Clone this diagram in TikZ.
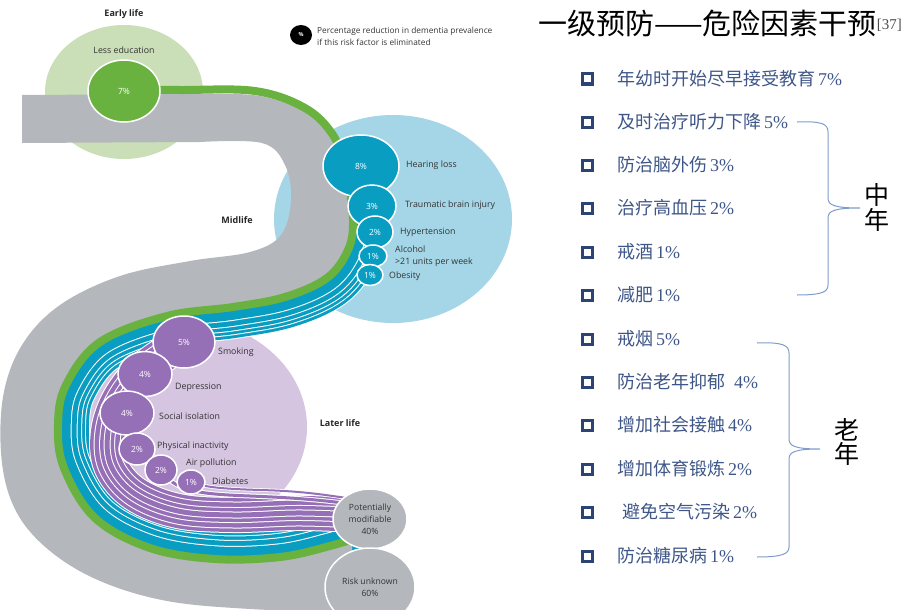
\documentclass[tikz,border=0pt]{standalone}
\usepackage{fontspec}
\usepackage{xcolor}
\usepackage{tikz}
\usetikzlibrary{shapes.geometric}
\newfontfamily\diagfont{Open Sans}
\newfontfamily\cjkfont{Noto Sans CJK SC}
\newfontfamily\refnumfont{Liberation Serif}

\definecolor{earlygreen}{HTML}{CADFB7}
\definecolor{beltgreen}{HTML}{6AB23F}
\definecolor{midblue}{HTML}{A5D6E7}
\definecolor{strandblue}{HTML}{0A9DC2}
\definecolor{laterpurple}{HTML}{D5C5E1}
\definecolor{strandpurple}{HTML}{9670B6}
\definecolor{beltgray}{HTML}{B4B8BD}
\definecolor{itemblue}{HTML}{3E5688}
\definecolor{boxnavy}{HTML}{2C4474}
\definecolor{braceblue}{HTML}{7E9BC9}

% centre line of the green belt below the hearing loss disc
\newcommand{\beltlower}{plot[smooth, tension=0.6] coordinates {(347,170) (353,220) (348,250) (327,278) (285,297) (233,307) (167,316) (100,342) (66,385) (58,425) (64,468) (95,518) (150,548) (215,559) (280,557) (330,546) (372,533)}}
% centre line of the later life bundle
\newcommand{\laterbundle}{plot[smooth, tension=0.6] coordinates {(184,342) (145,368) (120,398) (108,432) (111,466) (135,494) (178,511) (233,515) (295,513) (340,514) (372,514)}}

\tikzset{
  riskdot/.style={ellipse, draw=white, line width=1.5pt, inner sep=0pt, text=white,
    font=\diagfont\fontsize{8.5}{9}\selectfont},
  totaldot/.style={riskdot, fill=beltgray, text=black!80, align=center,
    font=\diagfont\fontsize{8.6}{12}\selectfont},
  factortext/.style={anchor=west, inner sep=0pt, text=black!80, align=left,
    font=\diagfont\fontsize{8.8}{12}\selectfont},
  stagetext/.style={inner sep=0pt, text=black!85, font=\diagfont\bfseries\fontsize{9}{10}\selectfont},
  bulletbox/.style={draw=boxnavy, line width=3pt, fill=white, minimum size=10pt, inner sep=0pt},
  itemtext/.style={anchor=west, inner sep=0pt, text=itemblue, font=\cjkfont\fontsize{18}{20}\selectfont},
  agetext/.style={inner sep=0pt, text=black, font=\cjkfont\fontsize{25}{25}\selectfont},
  bracepath/.style={draw=braceblue, line width=1pt}
}

\begin{document}
\begin{tikzpicture}[x=1pt, y=-1pt]
            \useasboundingbox (0,0) rectangle (913,610);
            
            % Drawing the three stage discs
            \fill[earlygreen] (124,92) ellipse [x radius=79pt, y radius=67pt];%
            \fill[midblue] (393,219) ellipse [x radius=119pt, y radius=104pt];%
            \fill[laterpurple] (181,427) ellipse [x radius=126pt, y radius=108pt];%
            
            % Drawing midlife strands along the belt
            \foreach \w/\stripcol in {64/white, 62/strandblue, 56/white, 54/strandblue, 48.4/white, 46.4/strandblue, 39.4/white, 37.4/strandblue, 27.4/white, 25.4/strandblue}
            {
              \draw[line width=\w pt, draw=\stripcol] \beltlower;%
            }
            
            % Drawing grey belt
            \fill[beltgray] (22,95) -- (200,94) -- plot[smooth, tension=0.6] coordinates {(200,94) (260,96) (310,114) (337,140) (348,175) (353,220) (348,250) (327,278) (285,297) (233,307) (167,316) (100,342) (66,385) (58,425) (64,468) (95,518) (150,548) (215,559) (280,557) (330,546) (352,543)} -- (352,612) -- plot[smooth, tension=0.6] coordinates {(340,612) (250,609) (167,601) (100,581) (50,551) (17,513) (2,463) (3,397) (22,345) (60,305) (120,276) (190,261) (250,252) (281,235) (291,200) (285,165) (262,143) (200,142)} -- (22,143) -- cycle;%
            
            % Drawing later life strands
            \foreach \w/\stripcol in {36/white, 34/strandpurple, 27/white, 25/strandpurple, 16/white, 14/strandpurple, 7/white, 5/strandpurple}
            {
              \draw[line width=\w pt, draw=\stripcol] \laterbundle;%
            }
            \draw[line width=5pt, white] (161,470) .. controls (175,492) and (200,494) .. (250,496) .. controls (300,498) and (320,500) .. (360,505);%
            \draw[line width=3pt, strandpurple] (161,470) .. controls (175,492) and (200,494) .. (250,496) .. controls (300,498) and (320,500) .. (360,505);%
            \draw[line width=3.6pt, white] (191,482) .. controls (205,488) and (230,489) .. (260,490) .. controls (300,491) and (320,494) .. (360,500);%
            \draw[line width=2pt, strandpurple] (191,482) .. controls (205,488) and (230,489) .. (260,490) .. controls (300,491) and (320,494) .. (360,500);%
            
            % Drawing green belt
            \draw[line width=8pt, beltgreen] plot[smooth, tension=0.6] coordinates {(124,90) (180,90) (255,91) (305,108) (333,135) (347,170)};%
            \draw[line width=8pt, beltgreen] \beltlower;%
            
            % Marking early life factor
            \node[riskdot, fill=beltgreen, minimum width=72pt, minimum height=62pt] (edu) at (124,91) {7\%};%
            
            % Marking midlife factors
            \node[riskdot, fill=strandblue, minimum width=76pt, minimum height=62pt] (hearing) at (361,166) {8\%};%
            \node[riskdot, fill=strandblue, minimum width=48pt, minimum height=42pt] (brain) at (372,206) {3\%};%
            \node[riskdot, fill=strandblue, minimum width=36pt, minimum height=32pt] (hyper) at (375,232) {2\%};%
            \node[riskdot, fill=strandblue, minimum width=28pt, minimum height=22pt] (alcohol) at (373,256) {1\%};%
            \node[riskdot, fill=strandblue, minimum width=26pt, minimum height=21pt] (obesity) at (370,275) {1\%};%
            
            % Marking later life factors
            \node[riskdot, fill=strandpurple, minimum width=62pt, minimum height=52pt] (smoking) at (184,342) {5\%};%
            \node[riskdot, fill=strandpurple, minimum width=54pt, minimum height=45pt] (depress) at (145,374) {4\%};%
            \node[riskdot, fill=strandpurple, minimum width=54pt, minimum height=44pt] (social) at (127,413) {4\%};%
            \node[riskdot, fill=strandpurple, minimum width=36pt, minimum height=32pt] (inactive) at (137,449) {2\%};%
            \node[riskdot, fill=strandpurple, minimum width=32pt, minimum height=30pt] (airpoll) at (161,470) {2\%};%
            \node[riskdot, fill=strandpurple, minimum width=28pt, minimum height=24pt] (diabetes) at (191,482) {1\%};%
            
            % Marking totals
            \node[totaldot, minimum width=74pt, minimum height=60pt] (modifiable) at (370,519) {Potentially\\modifiable\\40\%};%
            \node[totaldot, minimum width=90pt, minimum height=78pt] (unknown) at (370,587) {Risk unknown\\60\%};%
            
            % Writing stage names
            \node[stagetext] (early) at (124,14) {Early life};%
            \node[stagetext] (mid) at (237,220) {Midlife};%
            \node[stagetext] (later) at (340,423) {Later life};%
            
            % Writing factor names
            \node[factortext, anchor=center] (edutext) at (124,50) {Less education};%
            \node[factortext] (hearingtext) at (406,165) {Hearing loss};%
            \node[factortext] (braintext) at (405,205) {Traumatic brain injury};%
            \node[factortext] (hypertext) at (400,232) {Hypertension};%
            \node[factortext] (alcoholtext) at (395,256) {Alcohol\\>21 units per week};%
            \node[factortext] (obesitytext) at (389,276) {Obesity};%
            \node[factortext] (smokingtext) at (218,352) {Smoking};%
            \node[factortext] (depresstext) at (175,387) {Depression};%
            \node[factortext] (socialtext) at (159,416) {Social isolation};%
            \node[factortext] (inactivetext) at (157,446) {Physical inactivity};%
            \node[factortext] (airpolltext) at (186,463) {Air pollution};%
            \node[factortext] (diabetestext) at (212,481) {Diabetes};%
            
            % Writing legend
            \node[ellipse, fill=black, minimum width=22pt, minimum height=20pt, inner sep=0pt, text=white, font=\diagfont\bfseries\fontsize{5.5}{6}\selectfont] (keydot) at (301,35) {\%};%
            \node[factortext, font=\diagfont\fontsize{8.3}{12}\selectfont] (keytext) at (317,36) {Percentage reduction in dementia prevalence\\if this risk factor is eliminated};%
            
            % Writing title
            \node[anchor=west, inner sep=0pt, font=\cjkfont\fontsize{29}{30}\selectfont] (title) at (538,23) {一级预防——危险因素干预\raisebox{5pt}{\refnumfont\fontsize{15}{15}\selectfont\color{black!70}[37]}};%
            
            % Writing the list of interventions
            \node[bulletbox] (box1) at (587,79) {};%
            \node[itemtext] (item1) at (617,79) {年幼时开始尽早接受教育\,{\refnumfont 7\%}};%
            \node[bulletbox] (box2) at (587,122) {};%
            \node[itemtext] (item2) at (617,122) {及时治疗听力下降\,{\refnumfont 5\%}};%
            \node[bulletbox] (box3) at (587,165) {};%
            \node[itemtext] (item3) at (617,165) {防治脑外伤\,{\refnumfont 3\%}};%
            \node[bulletbox] (box4) at (587,208) {};%
            \node[itemtext] (item4) at (617,208) {治疗高血压\,{\refnumfont 2\%}};%
            \node[bulletbox] (box5) at (587,252) {};%
            \node[itemtext] (item5) at (617,252) {戒酒\,{\refnumfont 1\%}};%
            \node[bulletbox] (box6) at (587,295) {};%
            \node[itemtext] (item6) at (617,295) {减肥\,{\refnumfont 1\%}};%
            \node[bulletbox] (box7) at (587,339) {};%
            \node[itemtext] (item7) at (617,339) {戒烟\,{\refnumfont 5\%}};%
            \node[bulletbox] (box8) at (587,382) {};%
            \node[itemtext] (item8) at (617,382) {防治老年抑郁\enspace{\refnumfont 4\%}};%
            \node[bulletbox] (box9) at (587,425) {};%
            \node[itemtext] (item9) at (617,425) {增加社会接触\,{\refnumfont 4\%}};%
            \node[bulletbox] (box10) at (587,469) {};%
            \node[itemtext] (item10) at (617,469) {增加体育锻炼\,{\refnumfont 2\%}};%
            \node[bulletbox] (box11) at (587,512) {};%
            \node[itemtext] (item11) at (622,512) {避免空气污染\,{\refnumfont 2\%}};%
            \node[bulletbox] (box12) at (587,556) {};%
            \node[itemtext] (item12) at (617,556) {防治糖尿病\,{\refnumfont 1\%}};%
            
            % Drawing brace for midlife
            \coordinate (midtop) at (797,122);%
            \coordinate (midtip) at (860,208);%
            \coordinate (midbottom) at (797,295);%
            \draw[bracepath] (midtop) .. controls (822,121) and (828,124) .. (828,132) -- (828,198) .. controls (828,205) and (834,208) .. (midtip) .. controls (834,208) and (828,211) .. (828,218) -- (828,285) .. controls (828,292) and (822,295) .. (midbottom);%
            \node[agetext] (midzh1) at (877,195) {中};%
            \node[agetext] (midzh2) at (877,220) {年};%
            
            % Drawing brace for later life
            \coordinate (latetop) at (757,343);%
            \coordinate (latetip) at (820,449);%
            \coordinate (latebottom) at (757,557);%
            \draw[bracepath] (latetop) .. controls (782,342) and (789,345) .. (789,353) -- (789,439) .. controls (789,446) and (795,449) .. (latetip) .. controls (795,449) and (789,452) .. (789,459) -- (789,547) .. controls (789,554) and (782,557) .. (latebottom);%
            \node[agetext] (latezh1) at (847,430) {老};%
            \node[agetext] (latezh2) at (847,454) {年};%
\end{tikzpicture}
\end{document}
